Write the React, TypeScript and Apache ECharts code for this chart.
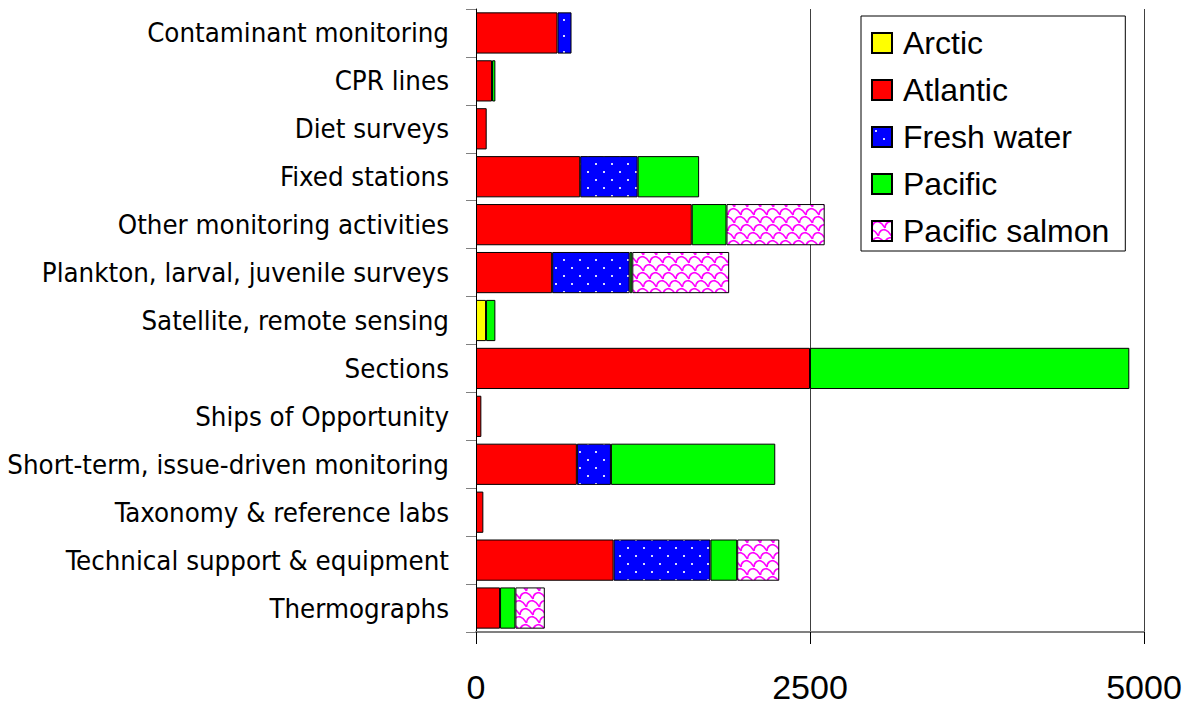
import React, { useEffect, useRef } from "react";
import * as echarts from "echarts";

const categories = [
  "Contaminant monitoring",
  "CPR lines",
  "Diet surveys",
  "Fixed stations",
  "Other monitoring activities",
  "Plankton, larval, juvenile surveys",
  "Satellite, remote sensing",
  "Sections",
  "Ships of Opportunity",
  "Short-term, issue-driven monitoring",
  "Taxonomy & reference labs",
  "Technical support & equipment",
  "Thermographs",
];

const arctic = [null, null, null, null, null, null, 75, null, null, null, null, null, null];
const atlantic = [610, 120, 80, 780, 1615, 570, null, 2500, 40, 755, 55, 1030, 180];
const freshWater = [105, null, null, 430, null, 580, null, null, null, 255, null, 725, null];
const pacific = [null, 25, null, 460, 260, 20, 70, 2390, null, 1230, null, 200, 115];
const pacificSalmon = [null, null, null, null, 735, 725, null, null, null, null, null, 315, 220];

const xTicks = [0, 2500, 5000];

function dotPattern() {
  const c = document.createElement("canvas");
  c.width = 16;
  c.height = 16;
  const ctx = c.getContext("2d")!;
  ctx.fillStyle = "#0000ff";
  ctx.fillRect(0, 0, 16, 16);
  ctx.fillStyle = "#d8d8ff";
  ctx.fillRect(3, 3, 2, 2);
  ctx.fillRect(11, 11, 2, 2);
  return c;
}

function scalePattern() {
  const w = 13;
  const h = 16;
  const c = document.createElement("canvas");
  c.width = w;
  c.height = h;
  const ctx = c.getContext("2d")!;
  ctx.fillStyle = "#ffffff";
  ctx.fillRect(0, 0, w, h);
  ctx.strokeStyle = "#ff00ff";
  ctx.lineWidth = 1.6;
  const row = (ox: number, oy: number) => {
    ctx.beginPath();
    ctx.moveTo(ox, oy + 7);
    ctx.bezierCurveTo(ox, oy + 2, ox + 4, oy, ox + 7, oy + 1);
    ctx.bezierCurveTo(ox + 10, oy + 2, ox + 11, oy + 4, ox + 13, oy + 7);
    ctx.stroke();
  };
  for (const oy of [-8, 0, 8, 16]) {
    const shift = (oy / 8) % 2 === 0 ? 0 : 6.5;
    for (const k of [-1, 0, 1]) row(k * w + shift, oy);
  }
  return c;
}

export default function App() {
  const ref = useRef<HTMLDivElement>(null);
  useEffect(() => {
    if (!ref.current) return;
    const chart = echarts.init(ref.current, null, { renderer: "svg" });
    const border = { borderColor: "#000", borderWidth: 1 };
    const mk = (name: string, data: any[], color: any) => ({
      name,
      type: "bar",
      stack: "total",
      data,
      barCategoryGap: "14%",
      itemStyle: { color, ...border },
    });
    chart.setOption({
      animation: false,
      backgroundColor: "#fff",
      grid: { left: 476, right: 47, top: 9, bottom: 74, containLabel: false },
      legend: {
        orient: "vertical",
        left: 861,
        top: 16,
        padding: [11, 16, 4, 10],
        backgroundColor: "#fff",
        borderColor: "#000",
        borderWidth: 1,
        borderRadius: 0,
        icon: "rect",
        itemWidth: 20,
        itemHeight: 20,
        itemGap: 15,
        textStyle: { fontFamily: "Liberation Sans, Arial", fontSize: 32, color: "#000", lineHeight: 32, padding: [0, 0, 0, 6] },
        data: ["Arctic", "Atlantic", "Fresh water", "Pacific", "Pacific salmon"],
      },
      xAxis: {
        type: "value",
        min: xTicks[0],
        max: xTicks[xTicks.length - 1],
        interval: xTicks[1] - xTicks[0],
        axisLine: { show: true, lineStyle: { color: "#808080", width: 2 } },
        axisTick: { show: true, length: 12, lineStyle: { color: "#000" } },
        axisLabel: {
          margin: 38,
          fontFamily: "Liberation Sans, Arial",
          fontSize: 34,
          color: "#000",
          formatter: (v: number) => String(v),
        },
        splitLine: { show: true, lineStyle: { color: "#404040", width: 1 } },
      },
      yAxis: {
        type: "category",
        inverse: true,
        data: categories,
        axisLine: { show: true, lineStyle: { color: "#000", width: 1 } },
        axisTick: { show: true, length: 10, lineStyle: { color: "#808080" } },
        axisLabel: { margin: 27, fontFamily: "DejaVu Sans Condensed", fontSize: 27.4, color: "#000" },
      },
      series: [
        mk("Arctic", arctic, "#ffff00"),
        mk("Atlantic", atlantic, "#ff0000"),
        mk("Fresh water", freshWater, { image: dotPattern(), repeat: "repeat" }),
        mk("Pacific", pacific, "#00ff00"),
        mk("Pacific salmon", pacificSalmon, { image: scalePattern(), repeat: "repeat" }),
      ],
    });
    return () => chart.dispose();
  }, []);
  return <div ref={ref} style={{ width: 1191, height: 706, position: "absolute", left: 0, top: 0 }} />;
}
